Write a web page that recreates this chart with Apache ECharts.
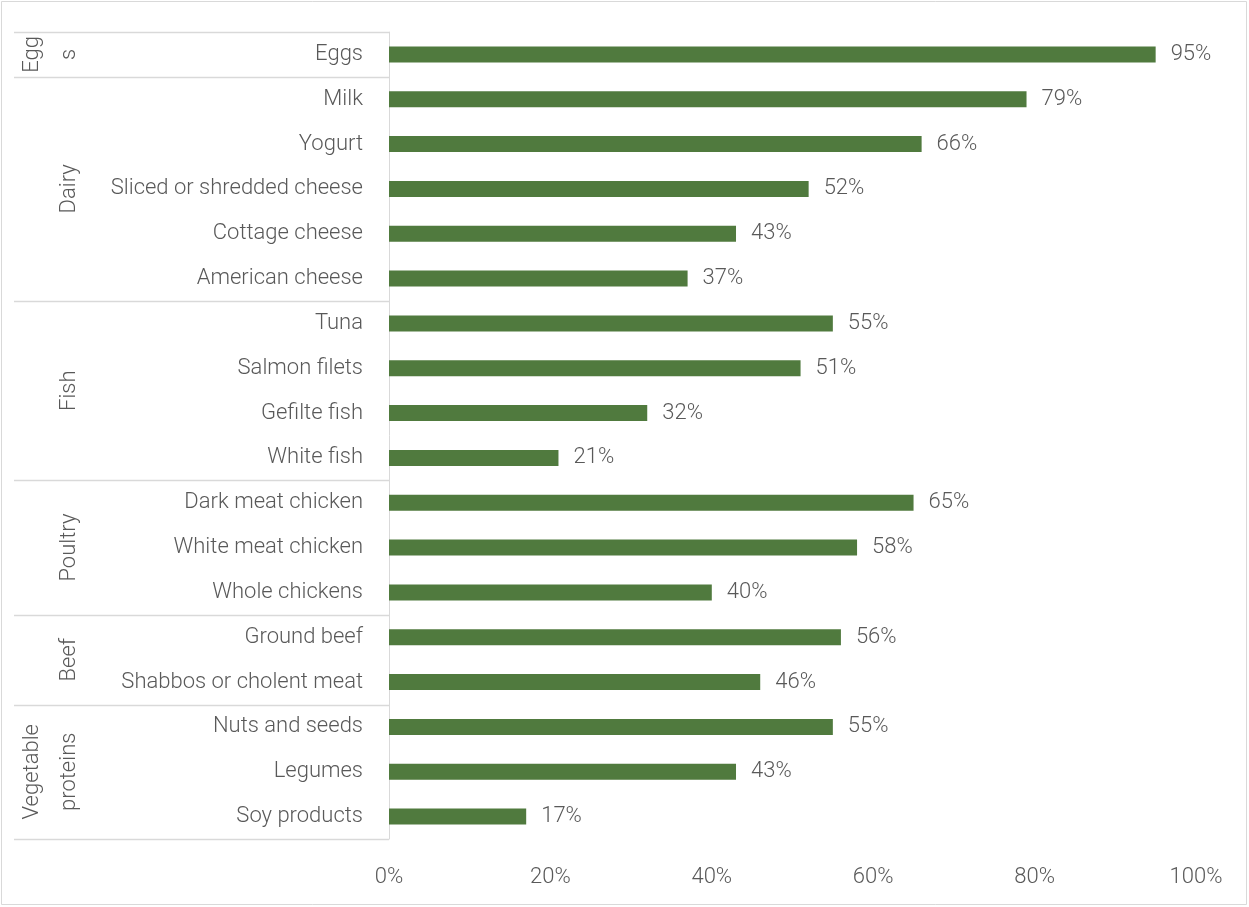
<!DOCTYPE html>
<html>
<head>
<meta charset="utf-8">
<script src="https://cdn.jsdelivr.net/npm/echarts@6/dist/echarts.min.js"></script>
<style>
html, body { margin: 0; padding: 0; background: #fff; }
#c { width: 1249px; height: 907px; }
</style>
</head>
<body>
<div id="c"></div>
<script>
// Food groups (as wrapped in the narrow left column) and how many items each holds
const groupLabels = ['Egg\ns', 'Dairy', 'Fish', 'Poultry', 'Beef', 'Vegetable\nproteins'];
const groupSizes = [1, 5, 4, 3, 2, 3];

// Items, top to bottom
const categories = [
  'Eggs',
  'Milk', 'Yogurt', 'Sliced or shredded cheese', 'Cottage cheese', 'American cheese',
  'Tuna', 'Salmon filets', 'Gefilte fish', 'White fish',
  'Dark meat chicken', 'White meat chicken', 'Whole chickens',
  'Ground beef', 'Shabbos or cholent meat',
  'Nuts and seeds', 'Legumes', 'Soy products'
];

// Share of respondents (%)
const values = [
  95,
  79, 66, 52, 43, 37,
  55, 51, 32, 21,
  65, 58, 40,
  56, 46,
  55, 43, 17
];

// Value axis ticks (%)
const xTicks = [0, 20, 40, 60, 80, 100];

const FONT = 'Roboto';
const FS = 22;
const TEXT = '#595959';
const RULE = '#d9d9d9';
const BAR = '#507a3e';

const chart = echarts.init(document.getElementById('c'), null, { renderer: 'canvas' });

chart.setOption({
  animation: false,
  backgroundColor: '#fff',
  textStyle: { fontFamily: FONT },
  grid: { left: 389, right: 53, top: 32, bottom: 68, containLabel: false },
  xAxis: {
    type: 'value',
    min: xTicks[0],
    max: xTicks[xTicks.length - 1],
    interval: xTicks[1] - xTicks[0],
    axisLine: { show: false },
    axisTick: { show: false },
    splitLine: { show: false },
    axisLabel: {
      formatter: '{value}%',
      color: TEXT,
      fontSize: FS,
      fontWeight: 300,
      fontFamily: FONT,
      margin: 27
    }
  },
  yAxis: {
    type: 'category',
    inverse: true,
    data: categories,
    axisLine: { show: true, lineStyle: { color: RULE, width: 1 } },
    axisTick: { show: false },
    axisLabel: {
      color: TEXT,
      fontSize: FS,
      fontWeight: 300,
      fontFamily: FONT,
      margin: 26,
      padding: [3, 0, 0, 0]
    }
  },
  series: [{
    type: 'bar',
    data: values,
    barWidth: 16,
    itemStyle: { color: BAR },
    label: {
      show: true,
      position: 'right',
      distance: 15,
      formatter: '{c}%',
      color: TEXT,
      fontSize: FS,
      fontWeight: 300,
      fontFamily: FONT,
      padding: [3, 0, 0, 0]
    }
  }]
});

// Group column: separator rules and rotated group names
const c0 = chart.convertToPixel({ yAxisIndex: 0 }, 0);
const c1 = chart.convertToPixel({ yAxisIndex: 0 }, 1);
const step = c1 - c0;
const axisX = chart.convertToPixel({ xAxisIndex: 0 }, 0);
const ruleLeft = 14;

const graphics = [{
  type: 'rect',
  shape: { x: 1.5, y: 1.5, width: 1245, height: 903 },
  style: { fill: 'none', stroke: RULE, lineWidth: 1 },
  silent: true
}];

let start = 0;
const boundary = i => c0 + (i - 0.5) * step;
graphics.push({
  type: 'line',
  shape: { x1: ruleLeft, y1: Math.round(boundary(0)) + 0.5, x2: axisX, y2: Math.round(boundary(0)) + 0.5 },
  style: { stroke: RULE, lineWidth: 1.5 },
  silent: true
});
groupLabels.forEach((g, k) => {
  const end = start + groupSizes[k];
  const yTop = boundary(start);
  const yBot = boundary(end);
  graphics.push({
    type: 'line',
    shape: { x1: ruleLeft, y1: Math.round(yBot) + 0.5, x2: axisX, y2: Math.round(yBot) + 0.5 },
    style: { stroke: RULE, lineWidth: 1.5 },
    silent: true
  });
  graphics.push({
    type: 'text',
    x: 88,
    y: (yTop + yBot) / 2,
    rotation: Math.PI / 2,
    style: {
      text: g,
      fill: TEXT,
      fontSize: FS,
      fontWeight: 300,
      fontFamily: FONT,
      lineHeight: 37,
      align: 'center',
      verticalAlign: 'bottom'
    },
    silent: true
  });
  start = end;
});

chart.setOption({ graphic: graphics });
</script>
</body>
</html>
